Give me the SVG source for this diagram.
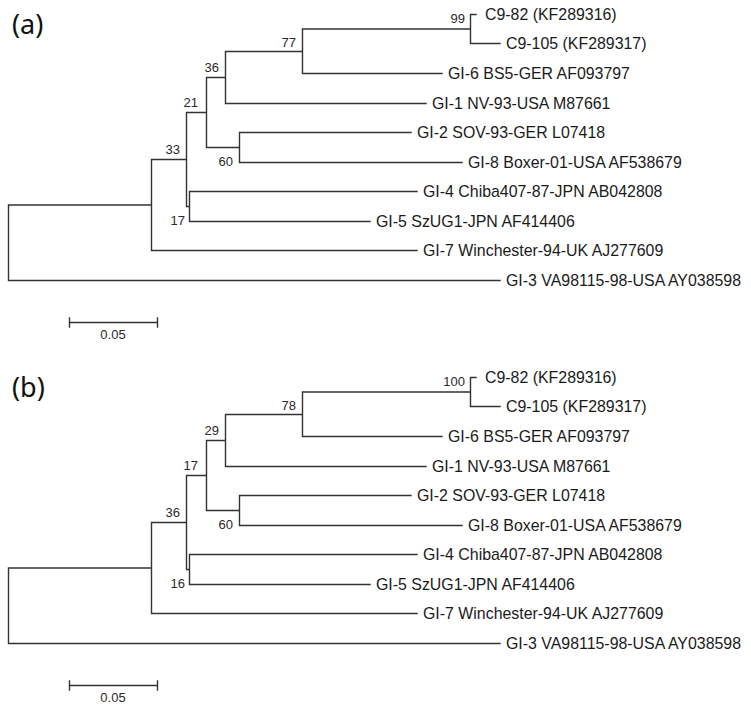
<svg xmlns="http://www.w3.org/2000/svg" width="751" height="711" viewBox="0 0 751 711">
<style>
.br{fill:none;stroke:#333;stroke-width:1.4;stroke-linecap:square}
.lf{font-family:"Liberation Sans",Arial,sans-serif;font-size:15.9px;fill:#1a1a1a}
.bs{font-family:"Liberation Sans",Arial,sans-serif;font-size:13px;fill:#2a2a2a;text-anchor:end}
.pl{font-family:"Noto Sans","Open Sans",sans-serif;font-size:27px;fill:#111}
.sc{font-family:"Liberation Sans",Arial,sans-serif;font-size:13px;fill:#2a2a2a;text-anchor:middle}
</style>
<rect width="751" height="711" fill="#fff"/>
<g id="panel-a">
<text class="pl" x="12" y="34">(a)</text>
<g id="a-connectors">
<path class="br" d="M8.5,205 V280.5 M8.5,205 H151.5 M8.5,280.5 H500
M151.5,159.5 V250.5 M151.5,159.5 H186.5 M151.5,250.5 H417
M186.5,112.5 V206.5 M186.5,112.5 H206.5 M186.5,206.5 H189.5
M189.5,191.5 V221.5 M189.5,191.5 H417 M189.5,221.5 H370
M206.5,77.5 V147.5 M206.5,77.5 H225.5 M206.5,147.5 H239.5
M239.5,132.5 V162.5 M239.5,132.5 H411 M239.5,162.5 H462
M225.5,51.5 V103.5 M225.5,51.5 H302.5 M225.5,103.5 H426
M302.5,29 V73.5 M302.5,29 H470.5 M302.5,73.5 H442
M470.5,14.5 V43.5 M470.5,14.5 H476 M470.5,43.5 H500"/>
</g>
<g id="a-leaf-c982"><text class="lf" x="485" y="20">C9-82 (KF289316)</text></g>
<g id="a-leaf-c9105"><text class="lf" x="506" y="49">C9-105 (KF289317)</text></g>
<g id="a-leaf-gi6"><text class="lf" x="448" y="79">GI-6 BS5-GER AF093797</text></g>
<g id="a-leaf-gi1"><text class="lf" x="432" y="109">GI-1 NV-93-USA M87661</text></g>
<g id="a-leaf-gi2"><text class="lf" x="417" y="138">GI-2 SOV-93-GER L07418</text></g>
<g id="a-leaf-gi8"><text class="lf" x="468" y="168">GI-8 Boxer-01-USA AF538679</text></g>
<g id="a-leaf-gi4"><text class="lf" x="423" y="197">GI-4 Chiba407-87-JPN AB042808</text></g>
<g id="a-leaf-gi5"><text class="lf" x="376" y="227">GI-5 SzUG1-JPN AF414406</text></g>
<g id="a-leaf-gi7"><text class="lf" x="423" y="256">GI-7 Winchester-94-UK AJ277609</text></g>
<g id="a-leaf-gi3"><text class="lf" x="506" y="286">GI-3 VA98115-98-USA AY038598</text></g>
<g id="a-node-99"><text class="bs" x="465" y="23">99</text></g>
<g id="a-node-77"><text class="bs" x="296" y="47">77</text></g>
<g id="a-node-36"><text class="bs" x="219" y="72">36</text></g>
<g id="a-node-21"><text class="bs" x="198" y="107">21</text></g>
<g id="a-node-33"><text class="bs" x="180" y="154">33</text></g>
<g id="a-node-60"><text class="bs" x="233" y="166">60</text></g>
<g id="a-node-17"><text class="bs" x="185" y="225">17</text></g>
<g id="a-scale">
<path class="br" d="M69.5,322.5 H157.5 M69.5,318 V327 M157.5,318 V327"/>
<text class="sc" x="113" y="339">0.05</text>
</g>
</g>
<g id="panel-b" transform="translate(0,363)">
<text class="pl" x="12" y="34">(b)</text>
<g id="b-connectors">
<path class="br" d="M8.5,205 V280.5 M8.5,205 H151.5 M8.5,280.5 H500
M151.5,159.5 V250.5 M151.5,159.5 H186.5 M151.5,250.5 H417
M186.5,112.5 V206.5 M186.5,112.5 H206.5 M186.5,206.5 H189.5
M189.5,191.5 V221.5 M189.5,191.5 H417 M189.5,221.5 H370
M206.5,77.5 V147.5 M206.5,77.5 H225.5 M206.5,147.5 H239.5
M239.5,132.5 V162.5 M239.5,132.5 H411 M239.5,162.5 H462
M225.5,51.5 V103.5 M225.5,51.5 H302.5 M225.5,103.5 H426
M302.5,29 V73.5 M302.5,29 H470.5 M302.5,73.5 H442
M470.5,14.5 V43.5 M470.5,14.5 H476 M470.5,43.5 H500"/>
</g>
<g id="b-leaf-c982"><text class="lf" x="485" y="20">C9-82 (KF289316)</text></g>
<g id="b-leaf-c9105"><text class="lf" x="506" y="49">C9-105 (KF289317)</text></g>
<g id="b-leaf-gi6"><text class="lf" x="448" y="79">GI-6 BS5-GER AF093797</text></g>
<g id="b-leaf-gi1"><text class="lf" x="432" y="109">GI-1 NV-93-USA M87661</text></g>
<g id="b-leaf-gi2"><text class="lf" x="417" y="138">GI-2 SOV-93-GER L07418</text></g>
<g id="b-leaf-gi8"><text class="lf" x="468" y="168">GI-8 Boxer-01-USA AF538679</text></g>
<g id="b-leaf-gi4"><text class="lf" x="423" y="197">GI-4 Chiba407-87-JPN AB042808</text></g>
<g id="b-leaf-gi5"><text class="lf" x="376" y="227">GI-5 SzUG1-JPN AF414406</text></g>
<g id="b-leaf-gi7"><text class="lf" x="423" y="256">GI-7 Winchester-94-UK AJ277609</text></g>
<g id="b-leaf-gi3"><text class="lf" x="506" y="286">GI-3 VA98115-98-USA AY038598</text></g>
<g id="b-node-100"><text class="bs" x="465" y="23">100</text></g>
<g id="b-node-78"><text class="bs" x="296" y="47">78</text></g>
<g id="b-node-29"><text class="bs" x="219" y="72">29</text></g>
<g id="b-node-17"><text class="bs" x="198" y="107">17</text></g>
<g id="b-node-36"><text class="bs" x="180" y="154">36</text></g>
<g id="b-node-60"><text class="bs" x="233" y="166">60</text></g>
<g id="b-node-16"><text class="bs" x="185" y="225">16</text></g>
<g id="b-scale">
<path class="br" d="M69.5,322.5 H157.5 M69.5,318 V327 M157.5,318 V327"/>
<text class="sc" x="113" y="339">0.05</text>
</g>
</g>
</svg>
